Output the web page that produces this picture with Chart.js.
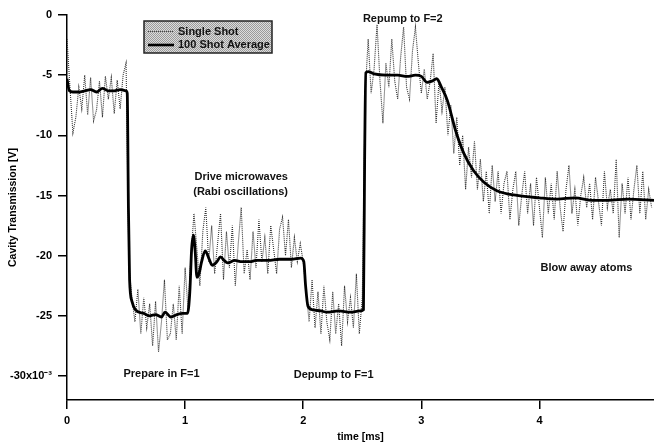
<!DOCTYPE html>
<html><head><meta charset="utf-8">
<script src="https://cdn.jsdelivr.net/npm/chart.js@4"></script>
<style>html,body{margin:0;padding:0;background:#fff}#wrap{width:654px;height:447px}</style>
</head><body><div id="wrap"><canvas id="c" width="654" height="447"></canvas></div>
<script>
// ---- data ----
const sampleInterval = 0.025; // ms between single-shot samples
const singleShot = [
 -2.0,-6.0,-9.8,-8.5,-6.0,-7.8,-5.0,-8.3,-5.2,-8.8,
 -7.9,-5.5,-8.5,-5.1,-7.0,-5.2,-8.2,-5.4,-7.8,-5.0,
 -4.0,-21.0,-23.5,-25.5,-22.8,-26.5,-23.5,-26.0,-24.0,-27.5,
 -23.8,-28.0,-25.5,-22.0,-27.0,-26.5,-24.0,-27.0,-22.5,-26.5,
 -21.0,-24.5,-20.0,-16.5,-19.5,-22.5,-18.0,-16.0,-20.5,-17.5,
 -21.5,-19.0,-16.5,-22.0,-18.0,-21.0,-17.5,-22.5,-19.0,-16.0,
 -21.5,-19.5,-22.0,-18.0,-21.0,-17.0,-20.5,-18.5,-21.5,-17.5,
 -19.5,-21.5,-17.8,-16.8,-20.0,-17.0,-21.0,-18.5,-20.5,-19.0,
 -20.5,-23.0,-25.5,-22.0,-26.0,-23.0,-26.5,-22.5,-25.5,-27.0,
 -23.0,-26.5,-24.0,-27.5,-22.5,-25.5,-23.5,-26.0,-21.5,-26.5,
 -23.5,-6.5,-2.0,-6.5,-4.5,-0.8,-5.5,-9.0,-4.0,-6.0,
 -2.0,-5.5,-7.0,-3.5,-1.0,-6.0,-7.0,-3.0,-1.0,-4.0,
 -6.5,-4.5,-7.0,-5.5,-3.2,-9.0,-5.5,-8.0,-6.0,-10.0,
 -7.5,-11.5,-8.5,-12.5,-10.0,-14.5,-11.0,-13.5,-10.5,-14.5,
 -12.0,-15.5,-13.0,-16.5,-12.5,-15.5,-13.0,-16.5,-14.0,-13.0,
 -17.0,-14.5,-13.0,-17.5,-15.0,-13.0,-16.5,-14.0,-17.5,-13.5,
 -16.0,-18.5,-13.5,-16.5,-14.0,-17.0,-13.0,-16.0,-18.0,-14.5,
 -12.5,-16.5,-14.5,-17.5,-15.0,-13.5,-16.0,-14.0,-17.0,-13.5,
 -15.5,-17.5,-13.0,-16.0,-14.5,-16.5,-12.0,-18.5,-14.0,-16.5,
 -13.5,-17.0,-14.5,-12.5,-16.5,-13.0,-17.0,-14.5,-16.0
];
const avgTime = [
 0.00,0.02,0.05,0.10,0.15,0.20,0.25,0.30,0.35,0.40,0.45,0.50,0.51,0.52,0.53,0.55,0.58,
 0.65,0.70,0.75,0.80,0.83,0.88,0.93,0.98,1.02,1.04,1.055,1.07,1.085,1.10,1.115,1.14,1.17,
 1.20,1.23,1.27,1.30,1.33,1.36,1.42,1.48,1.55,1.60,1.70,1.80,1.90,1.98,2.005,2.02,2.04,2.08,2.15,
 2.20,2.30,2.40,2.48,2.51,2.52,2.53,2.55,2.60,2.70,2.80,2.88,2.95,3.00,3.05,3.09,
 3.13,3.17,3.22,3.29,3.36,3.44,3.53,3.64,3.81,4.00,4.15,4.30,4.45,4.58,4.75,4.97
];
const avgValue = [
 -5.3,-6.3,-6.4,-6.4,-6.3,-6.2,-6.4,-6.1,-6.3,-6.3,-6.2,-6.3,-6.5,-16.0,-22.0,-23.8,-24.5,
 -24.8,-25.0,-24.9,-25.1,-24.7,-25.1,-24.9,-24.8,-24.8,-23.0,-19.5,-18.3,-19.6,-21.8,-21.6,-20.5,-19.6,
 -20.2,-20.8,-20.5,-20.1,-20.4,-20.6,-20.4,-20.5,-20.5,-20.4,-20.4,-20.3,-20.3,-20.2,-20.5,-22.5,-24.2,-24.5,-24.6,
 -24.7,-24.6,-24.7,-24.6,-24.5,-12.0,-4.8,-4.7,-4.9,-5.0,-5.0,-5.1,-5.0,-5.1,-5.6,-5.5,
 -5.3,-6.0,-7.1,-9.6,-11.5,-12.9,-13.9,-14.6,-15.0,-15.2,-15.3,-15.2,-15.4,-15.4,-15.3,-15.4
];
const xTicks = [0,1,2,3,4];
const yTicks = [0,-5,-10,-15,-20,-25,-30];
const seriesNames = ['Single Shot','100 Shot Average'];
const notes = [
 {text:'Drive microwaves', t:1.475, v:-13.5},
 {text:'(Rabi oscillations)', t:1.47, v:-14.75},
 {text:'Repump to F=2', t:2.843, v:-0.33},
 {text:'Blow away atoms', t:4.398, v:-21.0},
 {text:'Prepare in F=1', t:0.80, v:-29.83},
 {text:'Depump to F=1', t:2.258, v:-29.92}
];

const FONT = '"Liberation Sans", Arial, sans-serif';

const notePlugin = {
  id:'notes',
  afterDraw(chart){
    const {ctx, scales:{x,y}} = chart;
    ctx.save();
    // legend box
    const bx=144, by=21, bw=128, bh=32;
    const pc = document.createElement('canvas'); pc.width=2; pc.height=2;
    const p = pc.getContext('2d');
    p.fillStyle='#dcdcdc'; p.fillRect(0,0,2,2);
    p.fillStyle='#9a9a9a'; p.fillRect(0,0,1,1); p.fillRect(1,1,1,1);
    ctx.fillStyle = ctx.createPattern(pc,'repeat');
    ctx.fillRect(bx,by,bw,bh);
    ctx.strokeStyle='#222'; ctx.lineWidth=1.5;
    ctx.strokeRect(bx,by,bw,bh);
    // sample lines
    ctx.strokeStyle='#444'; ctx.lineWidth=1; ctx.setLineDash([1,1]);
    ctx.beginPath(); ctx.moveTo(148,31.5); ctx.lineTo(174,31.5); ctx.stroke();
    ctx.setLineDash([]);
    ctx.strokeStyle='#000'; ctx.lineWidth=2.6;
    ctx.beginPath(); ctx.moveTo(148,45); ctx.lineTo(174,45); ctx.stroke();
    ctx.fillStyle='#111'; ctx.font='bold 11px '+FONT;
    ctx.textAlign='left'; ctx.textBaseline='middle';
    ctx.fillText(seriesNames[0],178,32);
    ctx.fillText(seriesNames[1],178,45);
    // annotations
    ctx.textAlign='center';
    notes.forEach(n => ctx.fillText(n.text, x.getPixelForValue(n.t), y.getPixelForValue(n.v)));
    ctx.restore();
  }
};

new Chart(document.getElementById('c'), {
  type:'line',
  data:{datasets:[
    {label:seriesNames[1], data: avgTime.map((t,i)=>({x:t,y:avgValue[i]})),
     borderColor:'#000', borderWidth:2.8, pointRadius:0, cubicInterpolationMode:'monotone', fill:false},
    {label:seriesNames[0], data: singleShot.map((v,i)=>({x:i*sampleInterval,y:v})),
     borderColor:'#333', borderWidth:1.1, borderDash:[1,1], pointRadius:0, tension:0, fill:false}
  ]},
  options:{
    responsive:false, animation:false, devicePixelRatio:1,
    layout:{padding:{top:15,right:0,left:0,bottom:0}},
    plugins:{legend:{display:false}, tooltip:{enabled:false}},
    scales:{
      x:{type:'linear', min:0, max:4.97,
        afterBuildTicks:s=>{s.ticks=xTicks.map(v=>({value:v}));},
        afterFit:s=>{s.height=47;},
        grid:{drawOnChartArea:false, drawTicks:true, tickLength:9, color:'#000', lineWidth:1.5},
        border:{display:true, color:'#000', width:1.5},
        ticks:{color:'#000', font:{family:FONT, size:11, weight:'bold'}, padding:5, maxRotation:0, autoSkip:false},
        title:{display:true, text:'time [ms]', color:'#000', font:{family:FONT, size:10.5, weight:'bold'}, padding:{top:0,bottom:4}}
      },
      y:{type:'linear', min:-32, max:0,
        afterBuildTicks:s=>{s.ticks=yTicks.map(v=>({value:v}));},
        afterFit:s=>{s.width=67;},
        grid:{drawOnChartArea:false, drawTicks:true, tickLength:9, color:'#000', lineWidth:1.5},
        border:{display:true, color:'#000', width:1.5},
        ticks:{color:'#000', font:{family:FONT, size:11, weight:'bold'}, padding:6, autoSkip:false,
          callback:v=> v===-30 ? '-30x10\u207B\u00B3' : String(v)},
        title:{display:true, text:'Cavity Transmission [V]', color:'#000', font:{family:FONT, size:10.5, weight:'bold'}, padding:{top:7,bottom:0}}
      }
    }
  },
  plugins:[notePlugin]
});
</script>
</body></html>
